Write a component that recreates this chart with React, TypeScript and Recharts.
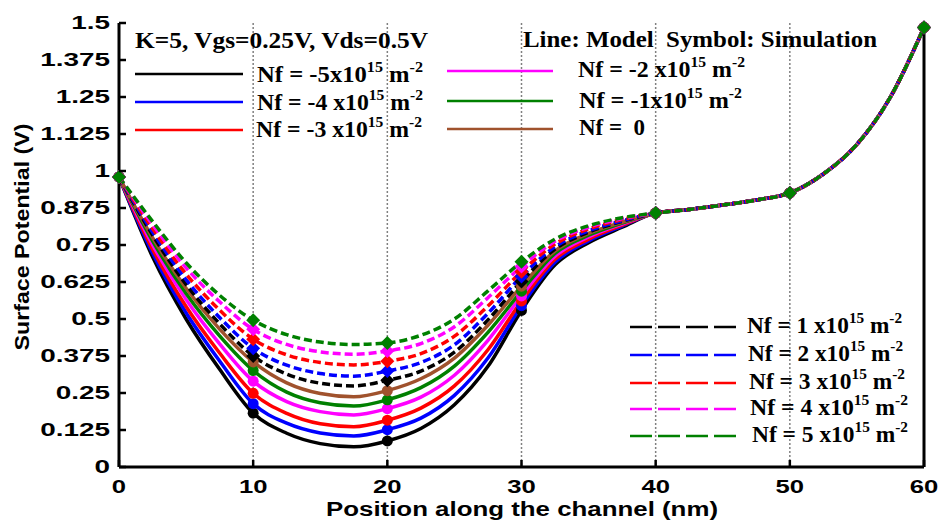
import React from 'react';
import { LineChart, Line, XAxis, YAxis, CartesianGrid } from 'recharts';

// channel positions (nm) where the model curves were read
const positions = [0, 2.5, 5, 7.5, 10, 12.5, 15, 17.5, 20, 22.5, 25, 27.5, 30, 32.5, 35, 37.5, 40, 42.5, 45, 47.5, 50, 52.5, 55, 57.5, 60];
// 42.5 .. 60 nm: all curves overlap there
const tail = [0.87, 0.885, 0.902, 0.926, 0.99, 1.09, 1.25, 1.485];

const nfM5 = [0.98, 0.71, 0.5, 0.33, 0.182, 0.114, 0.079, 0.068, 0.088, 0.13, 0.21, 0.34, 0.529, 0.683, 0.758, 0.81, 0.858, ...tail];
const nfM4 = [0.98, 0.723, 0.521, 0.358, 0.214, 0.148, 0.115, 0.105, 0.126, 0.165, 0.242, 0.368, 0.545, 0.692, 0.764, 0.814, 0.858, ...tail];
const nfM3 = [0.98, 0.736, 0.542, 0.385, 0.249, 0.181, 0.146, 0.136, 0.158, 0.199, 0.274, 0.396, 0.561, 0.702, 0.77, 0.817, 0.858, ...tail];
const nfM2 = [0.98, 0.751, 0.566, 0.416, 0.29, 0.221, 0.187, 0.176, 0.197, 0.236, 0.31, 0.428, 0.578, 0.712, 0.777, 0.821, 0.858, ...tail];
const nfM1 = [0.98, 0.764, 0.586, 0.443, 0.326, 0.253, 0.217, 0.206, 0.227, 0.268, 0.341, 0.455, 0.594, 0.722, 0.783, 0.824, 0.858, ...tail];
const nf0 = [0.98, 0.775, 0.604, 0.466, 0.355, 0.284, 0.248, 0.237, 0.258, 0.298, 0.368, 0.479, 0.611, 0.73, 0.789, 0.827, 0.858, ...tail];
const nfP1 = [0.98, 0.784, 0.617, 0.484, 0.375, 0.314, 0.283, 0.274, 0.293, 0.324, 0.388, 0.497, 0.627, 0.736, 0.793, 0.83, 0.858, ...tail];
const nfP2 = [0.98, 0.794, 0.633, 0.505, 0.401, 0.344, 0.316, 0.307, 0.324, 0.353, 0.413, 0.519, 0.644, 0.744, 0.798, 0.832, 0.858, ...tail];
const nfP3 = [0.98, 0.806, 0.652, 0.53, 0.432, 0.379, 0.353, 0.345, 0.357, 0.383, 0.442, 0.544, 0.66, 0.753, 0.804, 0.836, 0.858, ...tail];
const nfP4 = [0.98, 0.819, 0.673, 0.558, 0.465, 0.414, 0.389, 0.381, 0.392, 0.417, 0.474, 0.572, 0.677, 0.763, 0.81, 0.839, 0.858, ...tail];
const nfP5 = [0.98, 0.83, 0.69, 0.58, 0.496, 0.447, 0.422, 0.414, 0.419, 0.445, 0.5, 0.595, 0.693, 0.77, 0.815, 0.842, 0.858, ...tail];

const xTicks = [0, 10, 20, 30, 40, 50, 60];
const yTicks = [0, 0.125, 0.25, 0.375, 0.5, 0.625, 0.75, 0.875, 1, 1.125, 1.25, 1.375, 1.5];

const series = [
  { key: 'm5', values: nfM5, color: '#000000', dashed: false },
  { key: 'm4', values: nfM4, color: '#0000ff', dashed: false },
  { key: 'm3', values: nfM3, color: '#ff0000', dashed: false },
  { key: 'm2', values: nfM2, color: '#ff00ff', dashed: false },
  { key: 'm1', values: nfM1, color: '#008000', dashed: false },
  { key: 'z0', values: nf0, color: '#a0522d', dashed: false },
  { key: 'p1', values: nfP1, color: '#000000', dashed: true },
  { key: 'p2', values: nfP2, color: '#0000ff', dashed: true },
  { key: 'p3', values: nfP3, color: '#ff0000', dashed: true },
  { key: 'p4', values: nfP4, color: '#ff00ff', dashed: true },
  { key: 'p5', values: nfP5, color: '#008000', dashed: true },
];

const rows = positions.map((x, i) => {
  const row: any = { x };
  series.forEach((s) => { row[s.key] = s.values[i]; });
  return row;
});

const SANS = 'Liberation Sans, Arial, sans-serif';
const SERIF = 'Liberation Serif, Times New Roman, serif';

// simulation symbols only at every 10 nm
const makeDot = (color: string, diamond: boolean) => (props: any) => {
  const { cx, cy, payload, index } = props;
  if (payload.x % 10 !== 0 || cx == null) return <g key={index} />;
  if (diamond) {
    const r = 7;
    return <polygon key={index} points={`${cx},${cy - r} ${cx + r},${cy} ${cx},${cy + r} ${cx - r},${cy}`} fill={color} />;
  }
  return <circle key={index} cx={cx} cy={cy} r={5.5} fill={color} />;
};

const LeftTick = (props: any) => {
  const { x, y, payload } = props;
  const tx = x - 9;
  return (
    <g>
      <line x1={x} y1={y} x2={x + 7} y2={y} stroke="#000" strokeWidth={2.5} />
      <text transform={`translate(${tx} ${y}) scale(1.55 1)`} textAnchor="end" dy="0.36em" fontFamily={SANS} fontWeight="bold" fontSize={18} fill="#000">
        {payload.value}
      </text>
    </g>
  );
};

const RightTick = (props: any) => {
  const { x, y } = props;
  return <line x1={x - 8} y1={y} x2={x} y2={y} stroke="#000" strokeWidth={2.5} />;
};

const BottomTick = (props: any) => {
  const { x, y, payload } = props;
  return (
    <g>
      <line x1={x} y1={y - 7} x2={x} y2={y} stroke="#000" strokeWidth={2.5} />
      <text transform={`translate(${x} ${y + 26}) scale(1.35 1)`} textAnchor="middle" fontFamily={SANS} fontWeight="bold" fontSize={19} fill="#000">
        {payload.value}
      </text>
    </g>
  );
};

const TopTick = (props: any) => {
  const { x, y } = props;
  return <line x1={x} y1={y} x2={x} y2={y + 7} stroke="#000" strokeWidth={2.5} />;
};

function NfLabel({ x, y, coef, width, exp = true }: { x: number; y: number; coef: string; width: number; exp?: boolean }) {
  return (
    <text x={x} y={y} fontFamily={SERIF} fontWeight="bold" fontSize={23} fill="#000" textLength={width} lengthAdjust="spacingAndGlyphs" xmlSpace="preserve">
      {`Nf = ${coef}`}
      {exp && (
        <>
          <tspan dy={-10} fontSize={15}>15</tspan>
          <tspan dy={10}> m</tspan>
          <tspan dy={-10} fontSize={15}>-2</tspan>
        </>
      )}
    </text>
  );
}

const legendTop = [
  { color: '#000000', x1: 135, x2: 243, y: 74, tx: 257, ty: 82, coef: '-5x10', w: 166 },
  { color: '#0000ff', x1: 135, x2: 243, y: 102, tx: 257, ty: 110, coef: '-4 x10', w: 166 },
  { color: '#ff0000', x1: 135, x2: 243, y: 130, tx: 256, ty: 137, coef: '-3 x10', w: 166 },
  { color: '#ff00ff', x1: 447, x2: 553, y: 71, tx: 578, ty: 77, coef: '-2 x10', w: 167 },
  { color: '#008000', x1: 447, x2: 553, y: 101, tx: 579, ty: 108, coef: '-1x10', w: 163 },
];

const legendBottom = [
  { color: '#000000', y: 327, ty: 333, coef: '1 x10', tx: 747, w: 155 },
  { color: '#0000ff', y: 355, ty: 361, coef: '2 x10', tx: 748, w: 155 },
  { color: '#ff0000', y: 383, ty: 389, coef: '3 x10', tx: 749, w: 156 },
  { color: '#ff00ff', y: 409, ty: 415, coef: '4 x10', tx: 750, w: 158 },
  { color: '#008000', y: 436, ty: 442, coef: '5 x10', tx: 752, w: 156 },
];

export default function App() {
  return (
    <div style={{ position: 'absolute', left: 0, top: 0, width: 943, height: 522, background: '#fff' }}>
      <LineChart width={943} height={522} data={rows} margin={{ top: 23, right: 0, bottom: 0, left: 0 }}>
        <CartesianGrid xAxisId="b" yAxisId="l" horizontal={false} stroke="#808080" strokeDasharray="2 2" strokeWidth={1.5} />
        <XAxis xAxisId="b" dataKey="x" type="number" domain={[0, 60]} ticks={xTicks} height={55} tickSize={0} tickMargin={0}
          axisLine={{ stroke: '#000', strokeWidth: 3 }} tickLine={false} tick={<BottomTick />} />
        <XAxis xAxisId="t" orientation="top" dataKey="x" type="number" domain={[0, 60]} ticks={xTicks} height={0} tickSize={0} tickMargin={0}
          axisLine={{ stroke: '#000', strokeWidth: 3 }} tickLine={false} tick={<TopTick />} />
        <YAxis yAxisId="l" type="number" domain={[0, 1.5]} ticks={yTicks} width={119} tickSize={0} tickMargin={0}
          axisLine={{ stroke: '#000', strokeWidth: 3 }} tickLine={false} tick={<LeftTick />} />
        <YAxis yAxisId="r" orientation="right" type="number" domain={[0, 1.5]} ticks={yTicks} width={19} tickSize={0} tickMargin={0}
          axisLine={{ stroke: '#000', strokeWidth: 3 }} tickLine={false} tick={<RightTick />} />
        {series.map((s) => (
          <Line key={s.key} xAxisId="b" yAxisId="l" type="monotone" dataKey={s.key} stroke={s.color}
            strokeWidth={3.5} strokeDasharray={s.dashed ? '8 4' : undefined}
            dot={makeDot(s.color, s.dashed)} activeDot={false} isAnimationActive={false} />
        ))}
      </LineChart>
      <svg width={943} height={522} style={{ position: 'absolute', left: 0, top: 0, pointerEvents: 'none' }}>
        <text x={135} y={48} fontFamily={SERIF} fontWeight="bold" fontSize={23} textLength={293} lengthAdjust="spacingAndGlyphs">
          K=5, Vgs=0.25V, Vds=0.5V
        </text>
        <text x={523} y={47} fontFamily={SERIF} fontWeight="bold" fontSize={23} textLength={354} lengthAdjust="spacingAndGlyphs" xmlSpace="preserve">
          {'Line: Model  Symbol: Simulation'}
        </text>
        {legendTop.map((l) => (
          <g key={l.coef}>
            <line x1={l.x1} y1={l.y} x2={l.x2} y2={l.y} stroke={l.color} strokeWidth={2.5} />
            <NfLabel x={l.tx} y={l.ty} coef={l.coef} width={l.w} />
          </g>
        ))}
        <line x1={447} y1={129} x2={553} y2={129} stroke="#a0522d" strokeWidth={2.5} />
        <NfLabel x={579} y={135} coef={' 0'} width={66} exp={false} />
        {legendBottom.map((l) => (
          <g key={l.coef}>
            <line x1={630} y1={l.y} x2={738} y2={l.y} stroke={l.color} strokeWidth={2.5} strokeDasharray="22 6" />
            <NfLabel x={l.tx} y={l.ty} coef={l.coef} width={l.w} />
          </g>
        ))}
        <text transform="translate(29 237) rotate(-90)" textAnchor="middle" fontFamily={SANS} fontWeight="bold" fontSize={20} textLength={227} lengthAdjust="spacingAndGlyphs">
          Surface Potential (V)
        </text>
        <text x={522} y={516} textAnchor="middle" fontFamily={SANS} fontWeight="bold" fontSize={20} textLength={392} lengthAdjust="spacingAndGlyphs">
          Position along the channel (nm)
        </text>
      </svg>
    </div>
  );
}
